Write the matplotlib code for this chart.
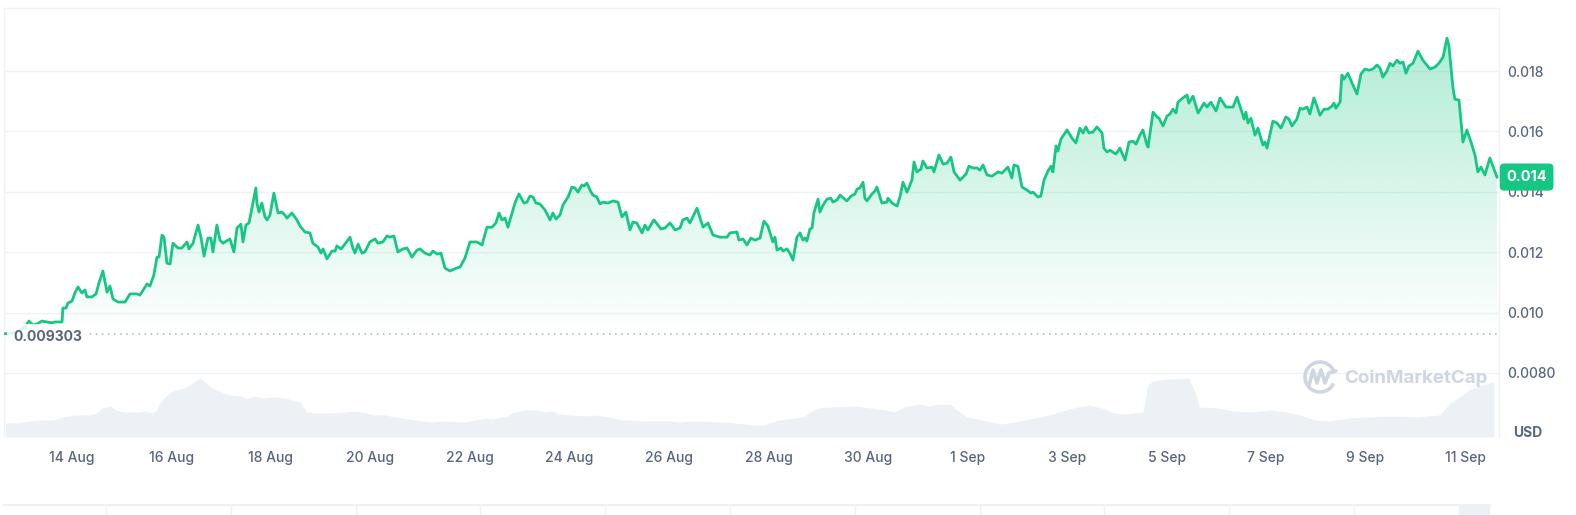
import numpy as np
import pandas as pd
import matplotlib
matplotlib.use("Agg")
import matplotlib.pyplot as plt
import matplotlib.dates as mdates
import matplotlib.transforms as mtransforms
from matplotlib.patches import Arc
from matplotlib.colors import to_rgb

plt.rcParams['font.family'] = ['Inter', 'DejaVu Sans']

#####################################
# data
#####################################
start = pd.Timestamp('2023-08-12 16:00')
base_price = 0.009303

# hours after start
price_hours = [
    0.0, 3.5, 6.9, 9.3, 11.2, 13.2, 15.1, 17.5, 19.9, 22.3,
    23.8, 27.2, 27.6, 29.1, 30.1, 32.0, 33.4, 34.9, 36.8, 38.3,
    39.2, 41.6, 43.6, 45.0, 46.9, 48.9, 50.3, 51.8, 54.2, 57.6,
    60.0, 63.3, 64.8, 68.2, 69.6, 71.5, 73.0, 74.0, 75.4, 76.4,
    77.8, 79.3, 80.7, 83.1, 85.0, 87.5, 88.4, 90.4, 92.8, 94.2,
    95.7, 97.6, 99.0, 100.0, 101.9, 103.4, 104.8, 108.2, 110.1, 111.6,
    113.5, 114.5, 115.9, 117.4, 118.8, 120.7,
    121.2, 122.2, 123.6, 125.1, 126.1, 127.5, 129.4, 131.4, 133.3, 134.7,
    135.7, 138.1, 140.5, 142.0, 144.4, 146.8, 148.2, 150.7, 152.1, 153.1,
    155.0, 157.4, 158.9, 159.8, 161.8, 163.7, 166.1, 167.5, 168.5, 170.0,
    171.9, 173.3, 175.7, 178.2, 179.6, 182.0, 183.9, 185.4, 187.3, 189.2,
    191.7, 193.6, 196.0, 198.4, 199.9, 202.3, 204.7, 206.1, 208.1, 210.0,
    211.9, 214.3, 217.7, 219.2, 221.6, 224.0, 227.4, 229.8, 232.2, 234.6,
    236.5, 238.0, 239.4, 240.9,
    242.3, 245.7, 247.6, 250.0, 251.5, 252.9, 254.4, 255.8, 257.7, 260.2,
    262.6, 264.0, 265.5, 267.4, 268.8, 271.3, 273.2, 274.6, 276.1, 278.0,
    279.0, 280.4, 281.9, 283.3, 285.2, 286.7, 288.1, 290.6, 293.0, 295.4,
    297.3, 299.2, 301.2, 302.6, 304.5, 307.0, 308.4, 309.8, 312.7, 314.7,
    316.1, 318.0, 320.5, 322.9, 325.3, 326.7, 328.7, 330.1, 333.5, 336.4,
    338.8, 341.2, 344.6, 348.0, 349.4, 352.8, 353.7, 355.7, 357.6, 359.5,
    361.5,
    363.9, 365.8, 367.7, 370.1, 371.1, 372.1, 374.0, 375.0, 376.9, 378.3,
    379.8, 381.7, 383.2, 384.6, 385.6, 386.5, 388.0, 389.0, 389.9, 391.9,
    392.8, 394.3, 396.2, 398.1, 399.1, 401.0, 402.5, 405.8, 407.8, 409.7,
    410.7, 412.1, 413.6, 414.5, 415.5, 417.9, 419.4, 420.3, 422.7, 425.1,
    425.6, 427.6, 430.0, 431.4, 432.9, 434.8, 437.2, 438.2, 439.6, 441.5,
    442.5, 444.4, 446.9, 447.8, 450.2, 452.2, 454.1, 456.0, 457.5, 460.4,
    463.3, 464.7, 466.6, 468.6, 470.0, 471.5, 473.4, 475.8, 478.7, 480.6,
    483.5, 485.4, 486.4, 488.3, 490.3, 492.7, 494.6, 495.6, 498.0, 499.4,
    500.9, 502.8, 504.3, 505.2, 506.7, 507.6, 509.1, 512.0, 514.4, 516.3,
    518.2, 519.7, 521.1, 522.6, 524.5, 526.4, 528.9, 529.8, 531.3, 532.7,
    535.6, 537.5, 540.0, 541.9, 543.8, 545.3, 547.2, 548.6, 550.6, 551.1,
    553.5, 555.4, 556.4, 558.3, 560.2, 561.7, 563.1, 564.6, 565.5, 567.9,
    569.9, 570.8, 572.8, 575.2, 578.1, 579.5, 581.4, 583.9, 585.8, 588.7,
    592.1, 594.0, 596.4, 597.4, 598.3, 599.3, 600.7, 602.7,
    604.1, 606.5, 607.5, 608.5, 611.3, 613.3, 615.2, 617.6, 619.1, 620.5,
    622.9, 624.4, 625.8, 627.8, 629.2, 631.1, 632.6, 634.0, 636.0, 637.9,
    639.8, 640.8, 641.7, 643.7, 644.6, 645.6, 647.5, 649.9, 651.9, 653.8,
    655.7, 657.7, 659.6, 661.5, 663.0, 664.4, 666.3, 667.8, 669.2, 671.2,
    672.6, 674.1, 675.5, 677.0, 678.9, 681.3, 683.7, 687.1, 689.5, 691.4,
    693.4, 695.3, 696.2, 698.2, 699.1, 701.1, 703.0, 704.9, 706.9, 708.8,
    710.2, 711.7, 713.6, 716.0, 719.4,
]

# price in USD
price_usd = [
    0.009303, 0.00932, 0.00942, 0.00952, 0.00972, 0.00959, 0.00962, 0.00972, 0.00969, 0.00966,
    0.00969, 0.00969, 0.01015, 0.01015, 0.01032, 0.01038, 0.01065, 0.01085, 0.01065, 0.01075,
    0.01052, 0.01052, 0.01062, 0.01098, 0.01138, 0.01068, 0.01088, 0.01045, 0.01035, 0.01035,
    0.01062, 0.01062, 0.01058, 0.01095, 0.01088, 0.01125, 0.01184, 0.01184, 0.01257, 0.01250,
    0.01164, 0.01161, 0.01230, 0.01214, 0.01214, 0.01234, 0.01211, 0.01230, 0.01290, 0.01250,
    0.01187, 0.01247, 0.01247, 0.01201, 0.01290, 0.01240, 0.01230, 0.01244, 0.01201, 0.01280,
    0.01293, 0.01234, 0.01290, 0.01297, 0.01346, 0.01413,
    0.01363, 0.01333, 0.01363, 0.01317, 0.01307, 0.01323, 0.01396, 0.01330, 0.01333, 0.01323,
    0.01313, 0.01330, 0.01307, 0.01287, 0.01267, 0.01264, 0.01230, 0.01217, 0.01197, 0.01211,
    0.01178, 0.01204, 0.01204, 0.01221, 0.01211, 0.01227, 0.01250, 0.01214, 0.01197, 0.01227,
    0.01197, 0.01201, 0.01234, 0.01244, 0.01230, 0.01234, 0.01254, 0.01250, 0.01254, 0.01201,
    0.01211, 0.01214, 0.01184, 0.01207, 0.01211, 0.01197, 0.01191, 0.01204, 0.01194, 0.01197,
    0.01148, 0.01138, 0.01148, 0.01151, 0.01181, 0.01234, 0.01234, 0.01224, 0.01283, 0.01283,
    0.01297, 0.01330, 0.01307, 0.01313,
    0.01283, 0.01363, 0.01393, 0.01363, 0.01366, 0.01386, 0.01383, 0.01363, 0.01360, 0.01340,
    0.01307, 0.01330, 0.01310, 0.01323, 0.01356, 0.01383, 0.01416, 0.01413, 0.01399, 0.01423,
    0.01419, 0.01429, 0.01406, 0.01389, 0.01383, 0.01360, 0.01366, 0.01363, 0.01370, 0.01366,
    0.01317, 0.01333, 0.01274, 0.01300, 0.01297, 0.01264, 0.01290, 0.01274, 0.01307, 0.01290,
    0.01277, 0.01280, 0.01297, 0.01274, 0.01280, 0.01307, 0.01313, 0.01297, 0.01346, 0.01283,
    0.01297, 0.01257, 0.01250, 0.01250, 0.01264, 0.01267, 0.01240, 0.01244, 0.01224, 0.01247,
    0.01240,
    0.01247, 0.01303, 0.01287, 0.01234, 0.01250, 0.01207, 0.01214, 0.01204, 0.01211, 0.01197,
    0.01174, 0.01250, 0.01264, 0.01240, 0.01247, 0.01237, 0.01277, 0.01280, 0.01330, 0.01376,
    0.01333, 0.01356, 0.01376, 0.01379, 0.01366, 0.01373, 0.01389, 0.01370, 0.01386, 0.01393,
    0.01409, 0.01413, 0.01432, 0.01379, 0.01370, 0.01393, 0.01403, 0.01416, 0.01363, 0.01366,
    0.01379, 0.01363, 0.01353, 0.01383, 0.01432, 0.01399, 0.01439, 0.01499, 0.01466, 0.01475,
    0.01502, 0.01479, 0.01482, 0.01466, 0.01522, 0.01492, 0.01495, 0.01515, 0.01466, 0.01439,
    0.01459, 0.01485, 0.01479, 0.01479, 0.01472, 0.01489, 0.01456, 0.01452, 0.01466, 0.01462,
    0.01482, 0.01446, 0.01489, 0.01485, 0.01416, 0.01406, 0.01396, 0.01399, 0.01383, 0.01386,
    0.01439, 0.01469, 0.01485, 0.01466, 0.01552, 0.01535, 0.01575, 0.01605, 0.01578, 0.01562,
    0.01611, 0.01595, 0.01615, 0.01595, 0.01598, 0.01615, 0.01595, 0.01545, 0.01532, 0.01538,
    0.01525, 0.01545, 0.01505, 0.01565, 0.01568, 0.01558, 0.01588, 0.01605, 0.01555, 0.01548,
    0.01664, 0.01648, 0.01644, 0.01618, 0.01651, 0.01658, 0.01674, 0.01661, 0.01697, 0.01711,
    0.01721, 0.01694, 0.01717, 0.01661, 0.01694, 0.01681, 0.01697, 0.01668, 0.01711, 0.01681,
    0.01681, 0.01714, 0.01664, 0.01641, 0.01664, 0.01628, 0.01644, 0.01588,
    0.01611, 0.01555, 0.01565, 0.01545, 0.01634, 0.01628, 0.01611, 0.01648, 0.01641, 0.01618,
    0.01641, 0.01677, 0.01674, 0.01681, 0.01658, 0.01711, 0.01684, 0.01654, 0.01674, 0.01674,
    0.01684, 0.01694, 0.01677, 0.01697, 0.01787, 0.01773, 0.01793, 0.01754, 0.01724, 0.01790,
    0.01807, 0.01803, 0.01807, 0.01820, 0.01810, 0.01780, 0.01800, 0.01826, 0.01817, 0.01836,
    0.01826, 0.01830, 0.01793, 0.01817, 0.01826, 0.01866, 0.01836, 0.01807, 0.01813, 0.01826,
    0.01846, 0.01909, 0.01886, 0.01744, 0.01707, 0.01704, 0.01565, 0.01605, 0.01565, 0.01522,
    0.01466, 0.01482, 0.01456, 0.01512, 0.01449,
]

# volume, hours after start / relative units
vol_hours = [
    0.0, 6.4, 7.9, 16.1, 22.8, 27.6, 33.4, 40.2, 44.0, 46.5,
    50.3, 53.2, 56.6, 64.8, 67.2, 70.6, 73.0, 74.0, 76.8, 79.7,
    82.2, 86.0, 89.4, 91.8, 93.7, 96.1, 98.6, 101.0, 104.3, 107.7,
    114.0, 115.9, 119.8, 124.1, 129.9, 134.7, 138.1, 142.0, 145.3, 149.7,
    157.9, 163.7, 168.5, 174.3, 177.7, 183.5, 187.3, 191.7, 197.4, 205.6,
    210.5, 221.1, 226.9, 231.7, 235.1, 238.5, 241.8, 244.2, 250.0, 255.8,
    260.6, 264.0, 267.4, 272.2, 280.4, 283.8, 291.0, 296.8, 300.2, 307.4,
    320.9, 324.8, 331.6, 347.0, 351.3, 361.9, 365.8, 373.0, 384.6, 391.4,
    398.6, 410.2, 416.9, 424.2, 429.0, 433.3, 440.6, 444.9, 449.7, 455.5,
    458.9, 463.7, 471.0, 480.1, 486.9, 496.5, 503.3, 508.1, 514.9, 522.1,
    528.9, 534.6, 540.4, 548.6, 551.1, 553.5, 560.7, 570.8, 574.7, 575.6,
    584.8, 592.1, 601.2, 610.4, 617.6, 624.4, 631.6, 638.4, 648.0, 657.2,
    668.7, 680.3, 691.9, 696.7, 701.6, 705.9, 712.2, 718.0,
]
vol_units = [
    14, 14, 15, 17, 17, 20, 22, 22, 24, 29,
    31, 27, 25, 25, 26, 24, 27, 33, 40, 45,
    47, 49, 53, 56, 59, 55, 50, 48, 45, 42,
    41, 38, 41, 39, 40, 39, 37, 35, 25, 24,
    24, 25, 26, 24, 22, 22, 20, 19, 17, 15,
    16, 15, 17, 19, 18, 20, 20, 24, 27, 27,
    25, 26, 23, 22, 21, 22, 20, 17, 17, 16,
    16, 15, 16, 15, 14, 12, 12, 17, 20, 29,
    30, 31, 29, 27, 25, 30, 33, 31, 33, 33,
    27, 20, 17, 13, 15, 19, 22, 25, 29, 32,
    29, 24, 23, 25, 52, 56, 58, 59, 40, 30,
    29, 26, 25, 27, 25, 22, 17, 16, 19, 20,
    21, 20, 22, 34, 40, 47, 52, 55,
]
vol_top = 429

tick_days = pd.date_range('2023-08-14', '2023-09-11', freq='2D')
y_ticks = [0.008, 0.010, 0.012, 0.014, 0.016, 0.018]
y_tick_labels = ['0.0080', '0.010', '0.012', '0.014', '0.016', '0.018']
last_label = '0.014'

#####################################
# style
#####################################
green = '#16c784'
grey_txt = '#58667e'
grid_c = '#eff2f5'
vol_c = '#edf0f4'

W, H = 1576, 515
t = start + pd.to_timedelta(price_hours, unit='h')
tv = start + pd.to_timedelta(vol_hours, unit='h')
x0 = start + pd.Timedelta(hours=-0.8)
x1 = start + pd.Timedelta(hours=720.4)
y0, y1 = 0.00588, 0.02009

fig = plt.figure(figsize=(W / 100, H / 100), dpi=100)
fig.patch.set_facecolor('white')
pos = [4 / W, 78 / H, 1495 / W, 429 / H]

# volume underneath
axv = fig.add_axes(pos)
axv.fill_between(tv, vol_units, 0, color=vol_c, lw=0)
axv.set_xlim(x0, x1)
axv.set_ylim(0, vol_top)
axv.axis('off')

# price
ax = fig.add_axes(pos)
ax.set_facecolor('none')
ax.plot(t, price_usd, color=green, lw=2.0, solid_joinstyle='round', zorder=4)
poly = ax.fill_between(t, price_usd, base_price, color='none', lw=0)

n = 256
rgba = np.zeros((n, 1, 4))
rgba[..., :3] = to_rgb(green)
rgba[..., 3] = np.linspace(0, 0.37, n)[:, None]
img = ax.imshow(rgba, extent=[mdates.date2num(x0), mdates.date2num(x1), base_price, y1],
                origin='lower', aspect='auto', interpolation='bilinear', zorder=2)
img.set_clip_path(poly.get_paths()[0], transform=ax.transData)

ax.axhline(base_price, color='#a6b0c3', lw=1.1, ls=(0, (1, 3)), zorder=3)
ax.annotate(f'{base_price:.6f}', xy=(0, base_price), xycoords=('axes fraction', 'data'),
            xytext=(6.5, -2.5), textcoords='offset points', ha='left', va='center',
            fontsize=10, fontweight='bold', color=grey_txt, zorder=6,
            bbox=dict(boxstyle='square,pad=0.45', fc='white', ec='none', alpha=0.85))

ax.set_xlim(x0, x1)
ax.set_ylim(y0, y1)
ax.set_yticks(y_ticks)
ax.set_yticklabels(y_tick_labels)
ax.yaxis.tick_right()
ax.yaxis.grid(True, color=grid_c, lw=1)
ax.set_axisbelow(True)
ax.set_xticks(tick_days)
ax.set_xticklabels([f'{d.day} {d:%b}' for d in tick_days])
ax.tick_params(axis='y', length=0, pad=5.8, labelsize=10, labelcolor=grey_txt)
ax.tick_params(axis='x', length=0, pad=10, labelsize=10, labelcolor=grey_txt)
for lab in ax.get_xticklabels() + ax.get_yticklabels():
    lab.set_fontweight('medium')
for s in ['top', 'left', 'right']:
    ax.spines[s].set_color(grid_c)
    ax.spines[s].set_linewidth(1)
ax.spines['bottom'].set_visible(False)

# last price badge
trans = mtransforms.blended_transform_factory(ax.transAxes, ax.transData)
ax.text(1 + 7.3 / 1495, price_usd[-1], last_label, transform=trans, ha='left', va='center',
        color='white', fontsize=10.5, fontweight='bold', zorder=10, clip_on=False,
        bbox=dict(boxstyle='round,pad=0.45,rounding_size=0.3', fc=green, ec='none'))

fig.text(1528 / W, 1 - 433 / H, 'USD', ha='center', va='center', fontsize=10,
         fontweight='bold', color=grey_txt)

# watermark
ov = fig.add_axes([0, 0, 1, 1])
ov.set_xlim(0, W)
ov.set_ylim(H, 0)
ov.axis('off')
wm = '#d0d6e1'
ov.add_patch(Arc((1320, 377), 30, 30, theta1=25, theta2=335, color=wm, lw=2.6))
ov.plot([1309, 1313, 1317, 1321, 1325, 1329, 1336], [386, 370, 383, 370, 383, 373, 371],
        color=wm, lw=2.6, solid_joinstyle='round', solid_capstyle='round')
ov.text(1344, 378, 'CoinMarketCap', ha='left', va='center', fontsize=13.5,
        fontweight='bold', color=wm)

# navigator strip
nav = fig.add_axes([4 / W, 0, 1486 / W, 10 / H])
nav.set_xlim(0, 1486)
nav.set_ylim(0, 1)
for xx in np.arange(102, 1486, 124.8):
    nav.axvline(xx, color=grid_c, lw=1)
nav.axvspan(1455, 1486, color=vol_c)
nav.set_xticks([])
nav.set_yticks([])
for s in ['left', 'right', 'bottom']:
    nav.spines[s].set_visible(False)
nav.spines['top'].set_color(grid_c)
nav.spines['top'].set_linewidth(1.5)

fig.savefig('out.png', dpi=100)
